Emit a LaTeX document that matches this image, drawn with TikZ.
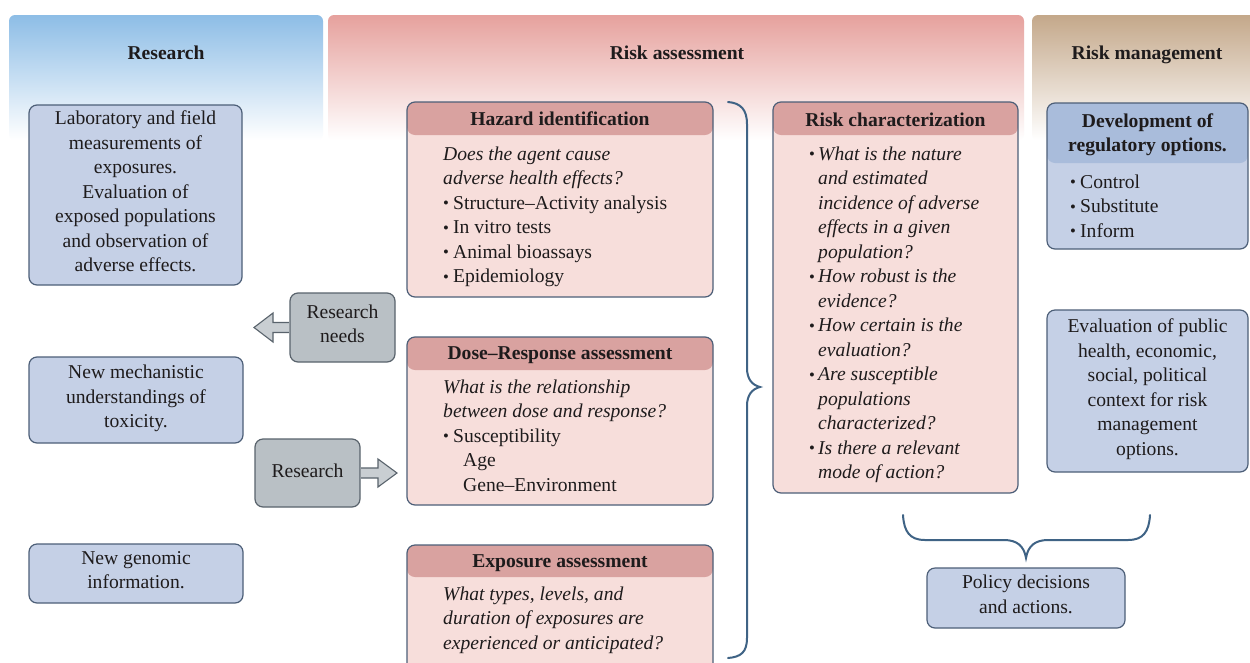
\documentclass[tikz,border=0pt]{standalone}
\usepackage{fontspec}
\setmainfont{Liberation Serif}
\usetikzlibrary{calc}
\definecolor{bandblue}{HTML}{8DBDE6}
\definecolor{bandpink}{HTML}{E6A19D}
\definecolor{bandtan}{HTML}{C4A88A}
\definecolor{boxblue}{HTML}{C5D0E6}
\definecolor{boxblueh}{HTML}{A9BCDB}
\definecolor{boxline}{HTML}{4D5F78}
\definecolor{pinkbody}{HTML}{F7DEDB}
\definecolor{pinkhead}{HTML}{D9A2A0}
\definecolor{grayfill}{HTML}{B9C0C5}
\definecolor{grayline}{HTML}{59636C}
\definecolor{arrowfill}{HTML}{C9CED2}
\definecolor{bracecol}{HTML}{3F6385}
\definecolor{txt}{HTML}{1E1B1C}
\newcommand\bodyfont{\fontsize{19.6}{24.5}\selectfont}
\newcommand\bulw[1]{\makebox[#1][l]{\raisebox{0.02em}{\scalebox{0.85}{•}}}}
\begin{document}
\begin{tikzpicture}[x=1pt,y=-1pt,
  bandtitle/.style={anchor=base, inner sep=0pt, font=\bodyfont\bfseries, text=txt},
  boxtitle/.style={anchor=base, inner sep=0pt, font=\bodyfont\bfseries, text=txt},
  bodytext/.style={anchor=north west, inner sep=0pt, align=left, font=\bodyfont, text=txt},
  bluebox/.style={draw=boxline, fill=boxblue, rounded corners=8pt, line width=1.2pt, align=center, font=\bodyfont, text=txt, inner sep=0pt, execute at begin node=\strut, execute at end node=\strut},
  graybox/.style={draw=grayline, fill=grayfill, rounded corners=8pt, line width=1.2pt, align=center, font=\bodyfont, text=txt, inner sep=0pt, execute at begin node=\strut, execute at end node=\strut},
  pinkbox/.style={draw=boxline, fill=pinkbody, rounded corners=8pt, line width=1.2pt, inner sep=0pt,
    path picture={\fill[pinkhead] (path picture bounding box.north west) rectangle ([yshift=-#1]path picture bounding box.north east);}},
  devbox/.style={draw=boxline, fill=boxblue, rounded corners=8pt, line width=1.2pt, inner sep=0pt,
    path picture={\fill[boxblueh] (path picture bounding box.north west) rectangle ([yshift=-#1]path picture bounding box.north east);}},
  fatarrow/.style={draw=grayline, fill=arrowfill, line width=1.1pt, line join=miter},
  bracestyle/.style={draw=bracecol, line width=2pt, line cap=round}
]
\useasboundingbox (0,0) rectangle (1250,662);
\clip (0,0) rectangle (1250,662);
\fill[white] (0,0) rectangle (1250,662);

% header bands
\shade[top color=bandblue, bottom color=white, rounded corners=6pt] (9,15) rectangle (323,140);
\shade[top color=bandpink, bottom color=white, rounded corners=6pt] (328,15) rectangle (1024,140);
\shade[top color=bandtan, bottom color=white, rounded corners=6pt] (1032,15) rectangle (1262,140);
\node[bandtitle] (tres) at (166,59) {Research};
\node[bandtitle] (tra) at (677,59) {Risk assessment};
\node[bandtitle] (trm) at (1147,59) {Risk management};

% research column
\node[bluebox, minimum width=213pt, minimum height=180pt] (r1) at (135.5,195)
  {Laboratory and field\\ measurements of\\ exposures.\\ Evaluation of\\ exposed populations\\ and observation of\\ adverse effects.};
\node[bluebox, minimum width=214pt, minimum height=86pt] (r2) at (136,400)
  {New mechanistic\\ understandings of\\ toxicity.};
\node[bluebox, minimum width=214pt, minimum height=59pt] (r3) at (136,573.5)
  {New genomic\\ information.};

% gray boxes and fat arrows
\coordinate (rntip) at (254,327.5);
\coordinate (rstip) at (397,473);
\node[graybox, minimum width=105pt, minimum height=69pt] (rn) at (342.5,327.5) {Research\\ needs};
\node[graybox, minimum width=105pt, minimum height=68pt] (rs) at (307.5,473) {Research};
\draw[fatarrow] ([xshift=-0.6pt,yshift=5pt]rn.west) -- ([xshift=19pt,yshift=5pt]rntip) -- ([xshift=19pt,yshift=14.5pt]rntip) -- (rntip) -- ([xshift=19pt,yshift=-14.5pt]rntip) -- ([xshift=19pt,yshift=-5pt]rntip) -- ([xshift=-0.6pt,yshift=-5pt]rn.west);
\draw[fatarrow] ([xshift=0.6pt,yshift=5pt]rs.east) -- ([xshift=-19pt,yshift=5pt]rstip) -- ([xshift=-19pt,yshift=14pt]rstip) -- (rstip) -- ([xshift=-19pt,yshift=-14pt]rstip) -- ([xshift=-19pt,yshift=-5pt]rstip) -- ([xshift=0.6pt,yshift=-5pt]rs.east);

% hazard identification
\node[pinkbox=33pt, minimum width=306pt, minimum height=195pt] (hz) at (560,199.5) {};
\node[boxtitle] (hzt) at (560,125) {Hazard identification};
\node[bodytext] (hzb) at (443,142.85)
  {\strut{\itshape Does the agent cause}\\
   {\itshape adverse health effects?}\\
   \bulw{10pt}Structure--Activity analysis\\
   \bulw{10pt}In vitro tests\\
   \bulw{10pt}Animal bioassays\\
   \bulw{10pt}Epidemiology};

% dose-response
\node[pinkbox=33pt, minimum width=306pt, minimum height=168pt] (dr) at (560,421) {};
\node[boxtitle] (drt) at (560,359) {Dose--Response assessment};
\node[bodytext] (drb) at (443,375.85)
  {\strut{\itshape What is the relationship}\\
   {\itshape between dose and response?}\\
   \bulw{10pt}Susceptibility\\
   \hspace*{20pt}Age\\
   \hspace*{20pt}Gene--Environment};

% exposure
\node[pinkbox=32pt, minimum width=306pt, minimum height=130pt] (ex) at (560,610) {};
\node[boxtitle] (ext) at (560,567) {Exposure assessment};
\node[bodytext] (exb) at (443,582.85)
  {\strut{\itshape What types, levels, and}\\
   {\itshape duration of exposures are}\\
   {\itshape experienced or anticipated?}};

% risk characterization
\node[pinkbox=33pt, minimum width=245pt, minimum height=391pt] (rc) at (895.5,297.5) {};
\node[boxtitle] (rct) at (895.5,126) {Risk characterization};
\node[bodytext] (rcb) at (809,142.85)
  {\strut\bulw{9pt}{\itshape What is the nature}\\
   \hspace*{9pt}{\itshape and estimated}\\
   \hspace*{9pt}{\itshape incidence of adverse}\\
   \hspace*{9pt}{\itshape effects in a given}\\
   \hspace*{9pt}{\itshape population?}\\
   \bulw{9pt}{\itshape How robust is the}\\
   \hspace*{9pt}{\itshape evidence?}\\
   \bulw{9pt}{\itshape How certain is the}\\
   \hspace*{9pt}{\itshape evaluation?}\\
   \bulw{9pt}{\itshape Are susceptible}\\
   \hspace*{9pt}{\itshape populations}\\
   \hspace*{9pt}{\itshape characterized?}\\
   \bulw{9pt}{\itshape Is there a relevant}\\
   \hspace*{9pt}{\itshape mode of action?}};

% big brace
\draw[bracestyle] (728,102) .. controls (741,103) and (747,110) .. (747,124)
  -- (747,368) .. controls (747,379) and (752,385) .. (760,387)
  .. controls (752,389) and (747,395) .. (747,406)
  -- (747,638) .. controls (747,652) and (741,657) .. (728,658);

% risk management
\node[devbox=60pt, minimum width=201pt, minimum height=146pt] (dev) at (1147.5,176) {};
\node[anchor=north, inner sep=0pt, align=center, font=\bodyfont\bfseries, text=txt] (devt) at (1147.5,109.85)
  {\strut Development of\\ regulatory options.};
\node[bodytext] (devb) at (1070,170.85)
  {\strut\bulw{10pt}Control\\ \bulw{10pt}Substitute\\ \bulw{10pt}Inform};
\node[bluebox, minimum width=201pt, minimum height=162pt] (ev) at (1147.5,391)
  {Evaluation of public\\ health, economic,\\ social, political\\ context for risk\\ management\\ options.};

% bottom brace and policy
\draw[bracestyle] (903,515) .. controls (904,532) and (910,540) .. (925,540)
  -- (1004,540) .. controls (1017,540) and (1024,546) .. (1026,558)
  .. controls (1028,546) and (1035,540) .. (1048,540)
  -- (1128,540) .. controls (1143,540) and (1149,532) .. (1150,515);
\node[bluebox, minimum width=198pt, minimum height=60pt] (pol) at (1026,598) {Policy decisions\\ and actions.};
\end{tikzpicture}
\end{document}
